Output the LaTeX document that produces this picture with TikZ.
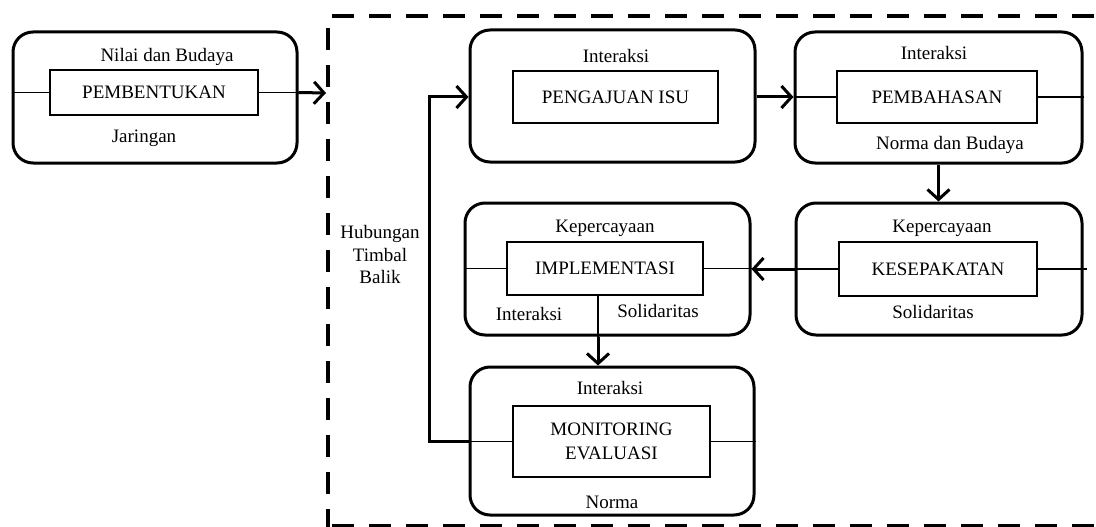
\documentclass[tikz,border=0pt]{standalone}
\usepackage{fontspec}
\setmainfont{Liberation Serif}
\usepackage{xcolor}
\usepackage{tikz}
\usetikzlibrary{positioning, arrows.meta, calc}

\begin{document}
\begin{tikzpicture}[x=1pt, y=-1pt,
    every node/.style={font=\fontsize{19}{22.5}\selectfont},
    stagebox/.style={draw, line width=3pt, rounded corners=20pt, inner sep=0pt},
    stepname/.style={draw, line width=1.6pt, inner sep=0pt, align=center},
    tag/.style={inner sep=0pt, align=center},
    link/.style={line width=1.3pt},
    flow/.style={line width=3pt, -{Straight Barb[length=10pt, width=22pt]}},
    frame/.style={line width=4.5pt, dash pattern=on 22pt off 15pt}]
  \useasboundingbox (0,0) rectangle (1096,527);

  \draw[frame] (332,16) -- (1096,16);
  \draw[frame] (328,28) -- (328,527);
  \draw[frame] (332,526) -- (1096,526);

  \node[stagebox, minimum width=284pt, minimum height=131pt] (b1) at (155,97.5) {};
  \node[stepname, minimum width=208pt, minimum height=45pt] (in1) at (154,92.5) {PEMBENTUKAN};
  \node[tag] (nilai) at (167,57) {Nilai dan Budaya};
  \node[tag] (jaringan) at (144,138) {Jaringan};
  \coordinate (entry) at (326,93);

  \node[stagebox, minimum width=285pt, minimum height=132pt] (b2) at (612.5,96) {};
  \node[stepname, minimum width=205pt, minimum height=52pt] (in2) at (615.5,97) {PENGAJUAN ISU};
  \node[tag] (int2) at (616,56) {Interaksi};

  \node[stagebox, minimum width=287pt, minimum height=131pt] (b3) at (938.5,97.5) {};
  \node[stepname, minimum width=200pt, minimum height=52pt] (in3) at (937,97) {PEMBAHASAN};
  \node[tag] (int3) at (934,53) {Interaksi};
  \node[tag] (norbud) at (950,145) {Norma dan Budaya};

  \node[stagebox, minimum width=286pt, minimum height=132pt] (b4) at (939,269) {};
  \node[stepname, minimum width=198pt, minimum height=54pt] (in4) at (938,269) {KESEPAKATAN};
  \node[tag] (kep4) at (942,228) {Kepercayaan};
  \node[tag] (sol4) at (933,312) {Solidaritas};

  \node[stagebox, minimum width=285pt, minimum height=132pt] (b5) at (607.5,269) {};
  \node[stepname, minimum width=196pt, minimum height=53pt] (in5) at (605,268.5) {IMPLEMENTASI};
  \node[tag] (kep5) at (605,228) {Kepercayaan};
  \node[tag] (int5) at (529,314) {Interaksi};
  \node[tag] (sol5) at (658,311) {Solidaritas};

  \node[stagebox, minimum width=284pt, minimum height=148pt] (b6) at (612,441) {};
  \node[stepname, minimum width=197pt, minimum height=71pt,
        font=\fontsize{19}{24}\selectfont] (in6) at (611.5,441.5) {MONITORING\\EVALUASI};
  \node[tag] (int6) at (610,388) {Interaksi};
  \node[tag] (norma) at (612,502) {Norma};

  \node[tag] (hubungan) at (380,255) {Hubungan\\Timbal\\Balik};

  \draw[link] (in1.west) -- (in1.west -| b1.west);
  \draw[link] (in1.east) -- (in1.east -| b1.east);
  \draw[flow] (in1.east -| b1.east) -- (entry);

  \draw[flow] (in2.east -| b2.east) -- (in2.east -| b3.west);
  \draw[link] (in3.west) -- (in3.west -| b3.west);
  \draw[link] (in3.east) -- (in3.east -| b3.east);

  \draw[flow] (b3.south) -- (b3.south |- b4.north);

  \draw[link] (in4.east) -- ([xshift=3pt]in4.east -| b4.east);
  \draw[link] (in4.west) -- (in4.west -| b4.west);
  \draw[flow] (in4.west -| b4.west) -- (in4.west -| b5.east);

  \draw[link] (in5.west) -- (in5.west -| b5.west);
  \draw[link] (in5.east) -- (in5.east -| b5.east);
  \draw[link] ([xshift=-7pt]in5.south) -- ([xshift=-7pt]in5.south |- b5.south);
  \draw[flow] ([xshift=-7pt]in5.south |- b5.south) -- ([xshift=-7pt]in5.south |- b6.north);

  \draw[link] (in6.west) -- (in6.west -| b6.west);
  \draw[link] (in6.east) -- (in6.east -| b6.east);
  \draw[flow] (in6.west -| b6.west) -- ++(-39,0) |- (in2.west -| b2.west);
\end{tikzpicture}
\end{document}
